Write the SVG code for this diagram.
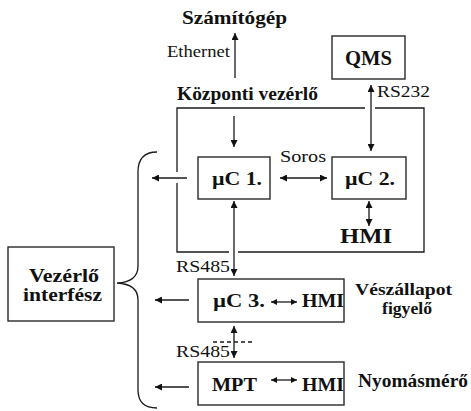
<svg xmlns="http://www.w3.org/2000/svg" width="471" height="411" viewBox="0 0 471 411">
<style>
.box{fill:#fff;stroke:#2a2a2a;stroke-width:1.4}
.ln{fill:none;stroke:#1a1a1a;stroke-width:1.3}
.t{font-family:"Liberation Serif","Times New Roman",serif;fill:#111}
.b{font-weight:bold}
</style>
<defs>
<marker id="ah" viewBox="0 0 10 10" refX="10" refY="5" markerWidth="8" markerHeight="7" markerUnits="userSpaceOnUse" orient="auto-start-reverse">
<path d="M0,0 L10,5 L0,10 z" fill="#111"/>
</marker>
<marker id="ahs" viewBox="0 0 10 10" refX="10" refY="5" markerWidth="7" markerHeight="6" markerUnits="userSpaceOnUse" orient="auto-start-reverse">
<path d="M0,0 L10,5 L0,10 z" fill="#111"/>
</marker>
</defs>
<rect width="471" height="411" fill="#fff"/>

<g id="central-frame">
<path class="ln" d="M365,108 L177,108 L177,172 M177,183 L177,252 L229,252 M238,252 L424,252 L424,108 L375,108"/>
<text class="t b" x="177" y="100" font-size="18" textLength="141" lengthAdjust="spacingAndGlyphs">Központi vezérlő</text>
</g>

<g id="szamitogep">
<text class="t b" x="182" y="24" font-size="19" textLength="105" lengthAdjust="spacingAndGlyphs">Számítógép</text>
</g>

<g id="qms">
<rect class="box" x="332" y="36" width="73" height="43"/>
<text class="t b" x="345" y="65" font-size="20" textLength="47" lengthAdjust="spacingAndGlyphs">QMS</text>
</g>

<g id="uc1">
<rect class="box" x="198" y="157" width="72" height="42"/>
<text class="t b" x="212" y="185" font-size="19" textLength="50" lengthAdjust="spacingAndGlyphs">µC 1.</text>
</g>

<g id="uc2">
<rect class="box" x="332" y="157" width="74" height="42"/>
<text class="t b" x="345" y="185" font-size="19" textLength="50" lengthAdjust="spacingAndGlyphs">µC 2.</text>
</g>

<g id="hmi-uc2">
<text class="t b" x="340" y="243" font-size="20" textLength="52" lengthAdjust="spacingAndGlyphs">HMI</text>
</g>

<g id="uc3">
<rect class="box" x="198" y="279" width="146" height="43"/>
<text class="t b" x="213" y="307" font-size="19" textLength="52" lengthAdjust="spacingAndGlyphs">µC 3.</text>
<text class="t b" x="302" y="307" font-size="19" textLength="42" lengthAdjust="spacingAndGlyphs">HMI</text>
</g>

<g id="veszallapot-label">
<text class="t b" x="355" y="295" font-size="16" textLength="97" lengthAdjust="spacingAndGlyphs">Vészállapot</text>
<text class="t b" x="382" y="314" font-size="16" textLength="50" lengthAdjust="spacingAndGlyphs">figyelő</text>
</g>

<g id="mpt">
<rect class="box" x="198" y="362" width="146" height="43"/>
<text class="t b" x="212" y="391" font-size="19" textLength="45" lengthAdjust="spacingAndGlyphs">MPT</text>
<text class="t b" x="302" y="391" font-size="19" textLength="42" lengthAdjust="spacingAndGlyphs">HMI</text>
</g>

<g id="nyomasmero-label">
<text class="t b" x="358" y="387" font-size="18" textLength="110" lengthAdjust="spacingAndGlyphs">Nyomásmérő</text>
</g>

<g id="vezerlo-interfesz">
<rect class="box" x="8" y="247" width="106" height="74"/>
<text class="t b" x="29" y="282" font-size="19" textLength="70" lengthAdjust="spacingAndGlyphs">Vezérlő</text>
<text class="t b" x="23" y="301" font-size="19" textLength="79" lengthAdjust="spacingAndGlyphs">interfész</text>
</g>

<g id="connectors">
<path class="ln" d="M157,152 Q138,152 138,172 L138,266 Q138,282 117,283 Q138,284 138,300 L138,390 Q138,408 157,408"/>
<line class="ln" x1="235" y1="78" x2="235" y2="33" marker-end="url(#ah)"/>
<text class="t" x="167" y="57" font-size="16" textLength="63" lengthAdjust="spacingAndGlyphs">Ethernet</text>
<line class="ln" x1="371" y1="85" x2="371" y2="151" marker-start="url(#ah)" marker-end="url(#ah)"/>
<text class="t" x="377" y="97" font-size="16" textLength="53" lengthAdjust="spacingAndGlyphs">RS232</text>
<line class="ln" x1="234" y1="116" x2="234" y2="147" marker-end="url(#ah)"/>
<line class="ln" x1="280" y1="178" x2="327" y2="178" marker-start="url(#ah)" marker-end="url(#ah)"/>
<text class="t" x="280" y="162" font-size="16" textLength="46" lengthAdjust="spacingAndGlyphs" fill="#2b3140">Soros</text>
<line class="ln" x1="369" y1="201" x2="369" y2="226" marker-start="url(#ah)" marker-end="url(#ah)"/>
<line class="ln" x1="187" y1="178" x2="152" y2="178" marker-end="url(#ah)"/>
<line class="ln" x1="234" y1="201" x2="234" y2="276" marker-start="url(#ah)" marker-end="url(#ah)"/>
<text class="t" x="176" y="272" font-size="16" textLength="54" lengthAdjust="spacingAndGlyphs">RS485</text>
<line class="ln" x1="189" y1="300" x2="155" y2="300" marker-end="url(#ah)"/>
<line class="ln" x1="271" y1="302" x2="297" y2="302" marker-start="url(#ahs)" marker-end="url(#ahs)"/>
<line class="ln" x1="213" y1="342" x2="253" y2="342" stroke-dasharray="4,3" stroke-width="1"/>
<line class="ln" x1="234" y1="326" x2="234" y2="358" marker-start="url(#ah)" marker-end="url(#ah)"/>
<text class="t" x="176" y="357" font-size="16" textLength="54" lengthAdjust="spacingAndGlyphs">RS485</text>
<line class="ln" x1="189" y1="387" x2="155" y2="387" marker-end="url(#ah)"/>
<line class="ln" x1="271" y1="380" x2="297" y2="380" marker-start="url(#ahs)" marker-end="url(#ahs)"/>
</g>
</svg>
